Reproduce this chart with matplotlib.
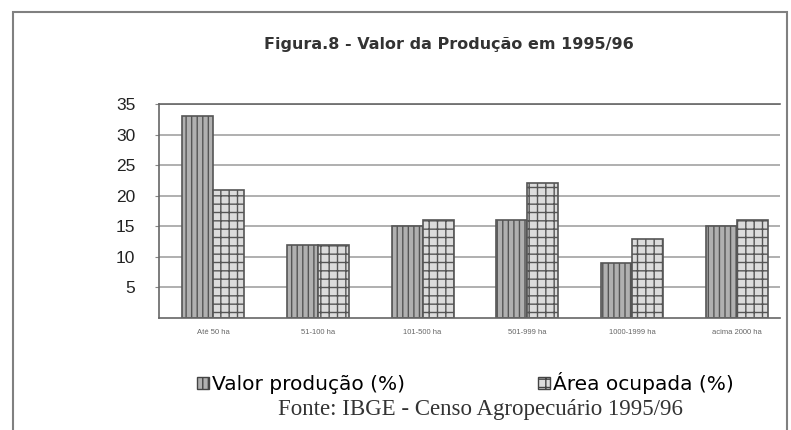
import numpy as np
import matplotlib
matplotlib.use("Agg")
import matplotlib.pyplot as plt
from matplotlib.patches import Rectangle, Patch

# data
classes = ["Até 50 ha", "51-100 ha", "101-500 ha", "501-999 ha",
           "1000-1999 ha", "acima 2000 ha"]
valor_producao = [33, 12, 15, 16, 9, 15]
area_ocupada = [21, 12, 16, 22, 13, 16]
yticks = [5, 10, 15, 20, 25, 30, 35]

W, H = 791, 430
fig = plt.figure(figsize=(W / 100, H / 100), dpi=100)
fig.patch.set_facecolor("white")

# axes box in pixels: x 159..780, y 104..318
ax = fig.add_axes([159 / W, 1 - 318 / H, (780 - 159) / W, (318 - 104) / H])

plt.rcParams["hatch.linewidth"] = 1.0
x = np.arange(len(classes))
bw = 0.296
ax.bar(x - bw / 2, valor_producao, width=bw, facecolor="#b0b0b0",
       edgecolor="#555555", hatch="|||", linewidth=1.2)
ax.bar(x + bw / 2, area_ocupada, width=bw, facecolor="#dcdcdc",
       edgecolor="#555555", hatch="++", linewidth=1.2)

ax.set_xlim(-0.515, 5.41)
ax.set_ylim(0, 35)
ax.set_yticks(yticks)
ax.set_yticklabels([str(t) for t in yticks], fontsize=12.5,
                   family="Liberation Sans", color="#222222")
ax.set_xticks(x)
ax.set_xticklabels(classes, fontsize=5.5, color="#666666",
                   family="Liberation Sans")
ax.tick_params(axis="y", length=3, pad=14, color="#888888")
ax.tick_params(axis="x", length=0, pad=8)
ax.set_axisbelow(True)
ax.grid(axis="y", color="#9a9a9a", linewidth=1.1)

for side in ["left", "bottom", "top"]:
    ax.spines[side].set_color("#666666")
    ax.spines[side].set_linewidth(1.2)
ax.spines["right"].set_visible(False)

fig.text(449 / W, 1 - 45 / H, "Figura.8 - Valor da Produção em 1995/96",
         ha="center", va="center", fontsize=11.5, fontweight="bold",
         family="DejaVu Sans", color="#333333")

handles = [Patch(facecolor="#b0b0b0", edgecolor="#444444", hatch="|||"),
           Patch(facecolor="#dcdcdc", edgecolor="#444444", hatch="++")]
fig.legend(handles, ["Valor produção (%)", "Área ocupada (%)"],
           loc="center left", bbox_to_anchor=(197 / W, 1 - 383 / H),
           ncol=2, frameon=False, handlelength=0.6,
           handleheight=0.6, handletextpad=0.15, columnspacing=6.6,
           borderpad=0, borderaxespad=0,
           prop={"family": "DejaVu Sans", "size": 14.5})

fig.text(480 / W, 1 - 409 / H, "Fonte: IBGE - Censo Agropecuário 1995/96",
         ha="center", va="center", fontsize=16.5, family="Liberation Serif",
         color="#333333")

# page frame of the scan
fig.patches.append(Rectangle((13 / W, -0.05), (787 - 13) / W, 1.05 - 12 / H,
                             transform=fig.transFigure, fill=False,
                             edgecolor="#808080", linewidth=1.5))

fig.savefig("out.png", dpi=100)
